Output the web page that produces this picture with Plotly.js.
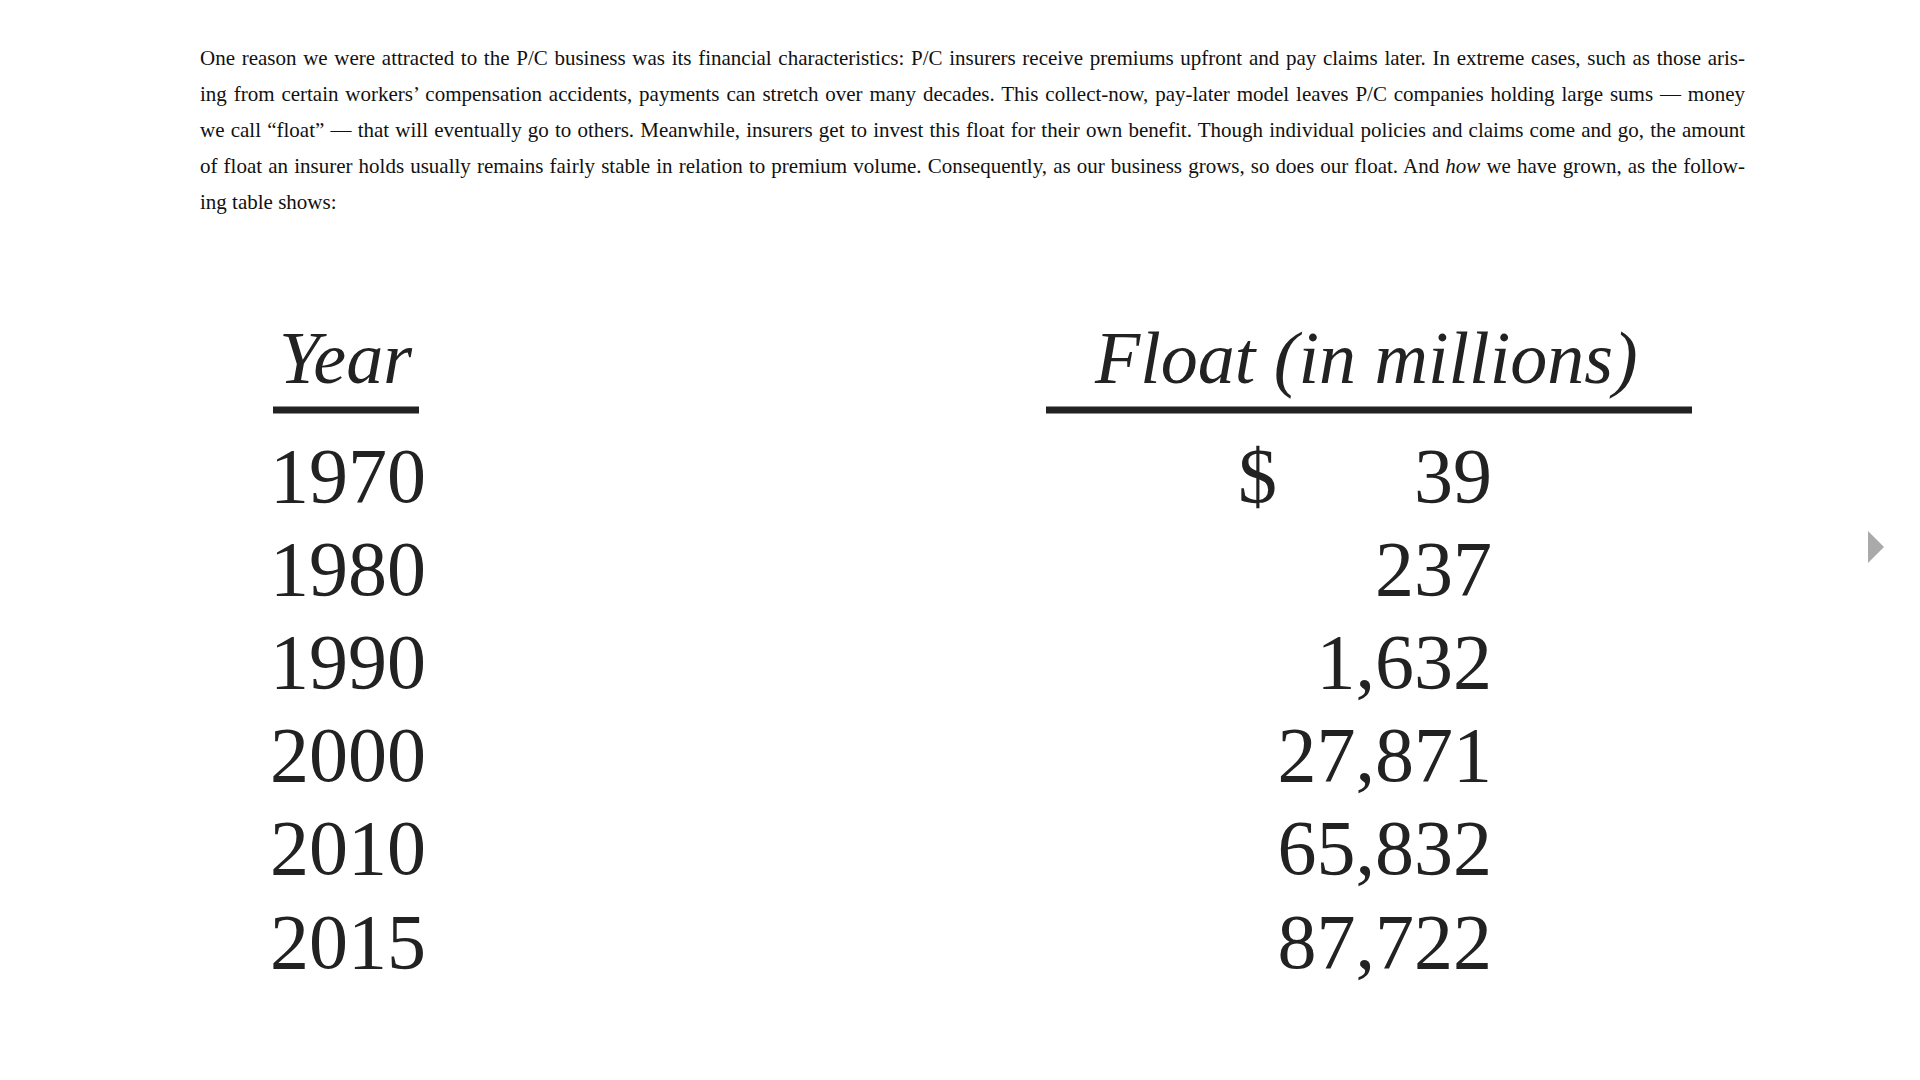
<!DOCTYPE html>
<html>
<head>
<meta charset="utf-8">
<script src="https://cdn.plot.ly/plotly-3.0.1.min.js"></script>
<style>
  body { margin: 0; background: #fff; }
  #wrap { position: relative; width: 1920px; height: 1080px; }
  #myDiv { position: absolute; left: 0; top: 0; width: 1920px; height: 1080px; }
  #para {
    position: absolute; left: 200px; top: 40px; width: 1545px;
    font-family: "Liberation Serif", serif; font-size: 21px; line-height: 36px;
    color: #111; z-index: 2;
  }
  #para div { text-align: justify; text-align-last: justify; white-space: nowrap; }
  #para div.last { text-align-last: left; }
</style>
</head>
<body>
<div id="wrap">
  <div id="para">
    <div>One reason we were attracted to the P/C business was its financial characteristics: P/C insurers receive premiums upfront and pay claims later. In extreme cases, such as those aris-</div>
    <div>ing from certain workers’ compensation accidents, payments can stretch over many decades. This collect-now, pay-later model leaves P/C companies holding large sums — money</div>
    <div>we call “float” — that will eventually go to others. Meanwhile, insurers get to invest this float for their own benefit. Though individual policies and claims come and go, the amount</div>
    <div>of float an insurer holds usually remains fairly stable in relation to premium volume. Consequently, as our business grows, so does our float. And <i>how</i> we have grown, as the follow-</div>
    <div class="last">ing table shows:</div>
  </div>
  <div id="myDiv"></div>
</div>
<script>
var years = ['1970', '1980', '1990', '2000', '2010', '2015'];
var floats = [39, 237, 1632, 27871, 65832, 87722];
var headers = ['Year', 'Float (in millions)'];

var rowY = [482, 575, 668, 761, 854, 948];
var fmt = function (v) { return v.toLocaleString('en-US'); };
var font = { family: 'Liberation Serif, serif', size: 78, color: '#222' };

var data = [
  {
    x: years.map(function () { return 270; }), y: rowY,
    text: years, mode: 'text', textposition: 'middle right',
    textfont: font, hoverinfo: 'skip'
  },
  {
    x: floats.map(function () { return 1492; }), y: rowY,
    text: floats.map(fmt), mode: 'text', textposition: 'middle left',
    textfont: font, hoverinfo: 'skip'
  },
  {
    x: [1238], y: [rowY[0]], text: ['$'], mode: 'text',
    textposition: 'middle right', textfont: font, hoverinfo: 'skip'
  }
];

var layout = {
  width: 1920, height: 1080,
  margin: { t: 0, b: 0, l: 0, r: 0 },
  showlegend: false,
  paper_bgcolor: 'rgba(0,0,0,0)', plot_bgcolor: 'rgba(0,0,0,0)',
  xaxis: { range: [0, 1920], visible: false, fixedrange: true },
  yaxis: { range: [1080, 0], visible: false, fixedrange: true },
  annotations: [
    { x: 346, y: 358, xref: 'x', yref: 'y', text: '<i>' + headers[0] + '</i>', showarrow: false,
      font: { family: 'Liberation Serif, serif', size: 74, color: '#222' } },
    { x: 1366, y: 358, xref: 'x', yref: 'y', text: '<i>' + headers[1] + '</i>', showarrow: false,
      font: { family: 'Liberation Serif, serif', size: 74, color: '#222' } }
  ],
  shapes: [
    { type: 'line', x0: 273, x1: 419, y0: 410, y1: 410, line: { color: '#222', width: 7 } },
    { type: 'line', x0: 1046, x1: 1692, y0: 410, y1: 410, line: { color: '#222', width: 7 } },
    { type: 'path', path: 'M 1868 531 L 1868 563 L 1884 547 Z', fillcolor: '#aaa', line: { width: 0 } }
  ]
};

Plotly.newPlot('myDiv', data, layout, { staticPlot: true });
</script>
</body>
</html>
